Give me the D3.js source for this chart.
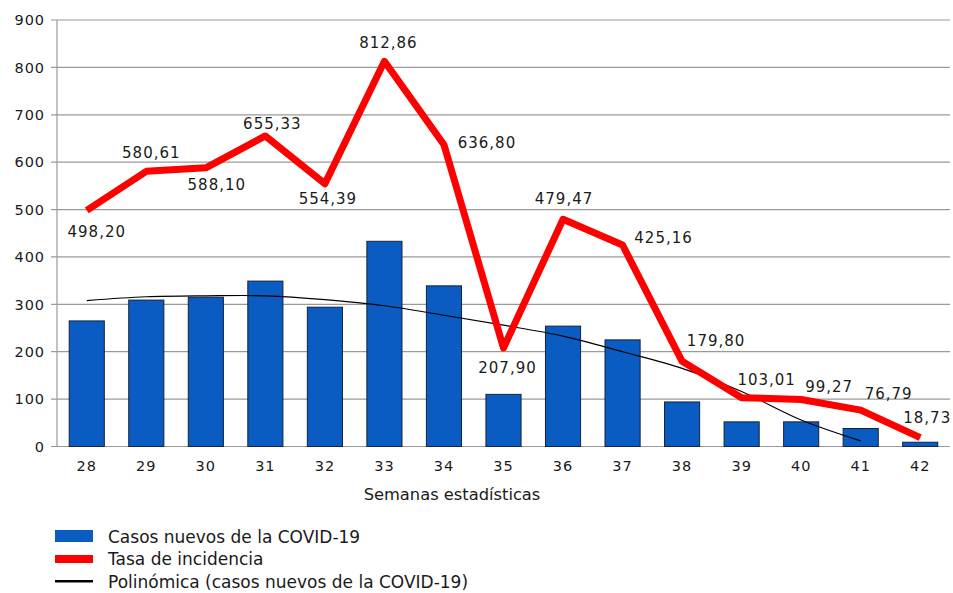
<!DOCTYPE html>
<html><head><meta charset="utf-8">
<script src="https://cdn.jsdelivr.net/npm/d3@7"></script>
<style>
html,body{margin:0;padding:0;background:#fff;}
svg{display:block;font-family:"DejaVu Sans",Verdana,sans-serif;}
</style></head>
<body>
<svg id="c" width="953" height="593"></svg>
<script>
const semanas = ["28","29","30","31","32","33","34","35","36","37","38","39","40","41","42"];
const casosNuevos = [265, 309, 315, 349, 294, 433, 339, 110, 254, 225, 94, 52, 52, 38, 9];
const tasaIncidencia = [498.20, 580.61, 588.10, 655.33, 554.39, 812.86, 636.80, 207.90, 479.47, 425.16, 179.80, 103.01, 99.27, 76.79, 18.73];
const tendencia = [308, 316, 318, 318, 310, 297, 277, 256, 233, 200, 165, 116, 56, 12];
const yTicks = [0, 100, 200, 300, 400, 500, 600, 700, 800, 900];
const legendLabels = ["Casos nuevos de la COVID-19", "Tasa de incidencia", "Polinómica (casos nuevos de la COVID-19)"];
const xTitle = "Semanas estadísticas";
// label placement offsets (presentation only)
const labelOffsets = [[10,21],[5,-19],[11,17],[7,-12],[3,15],[4,-19],[43,-2],[4,20],[1,-21],[41,-7],[34,-21],[25,-18],[28,-13],[28,-17],[7,-20]];

(function () {
const svg = d3.select("#c");
const pLeft = 57, pRight = 950, pTop = 20, pBottom = 446.5;
const x = d3.scaleBand().domain(semanas).range([pLeft, pRight]).paddingInner(0.41).paddingOuter(0.205);
const y = d3.scaleLinear().domain([0, 900]).range([pBottom, pTop]);
const cx = d => x(d) + x.bandwidth() / 2;

// grid
svg.append("g").selectAll("line").data(yTicks).join("line")
  .attr("x1", 51).attr("x2", pRight).attr("y1", d => y(d)).attr("y2", d => y(d))
  .attr("stroke", "#9a9a9a").attr("stroke-width", 1.2);
svg.append("line").attr("x1", pLeft).attr("x2", pLeft).attr("y1", pTop).attr("y2", pBottom)
  .attr("stroke", "#9a9a9a").attr("stroke-width", 1.2);

// y labels
svg.append("g").selectAll("text").data(yTicks).join("text")
  .attr("x", 45).attr("y", d => y(d)).attr("dy", "0.36em").attr("text-anchor", "end")
  .attr("font-size", 14.5).attr("letter-spacing", 0.9).attr("fill", "#1a1a1a").text(d => d);

// bars
svg.append("g").selectAll("rect").data(casosNuevos).join("rect")
  .attr("x", (d, i) => x(semanas[i])).attr("width", x.bandwidth())
  .attr("y", d => y(d)).attr("height", d => y(0) - y(d))
  .attr("fill", "#0a5cc2").attr("stroke", "#15233a").attr("stroke-width", 1);

// x labels
svg.append("g").selectAll("text").data(semanas).join("text")
  .attr("x", d => cx(d)).attr("y", 466).attr("dy", "0.36em").attr("text-anchor", "middle")
  .attr("font-size", 14.5).attr("letter-spacing", 1).attr("fill", "#1a1a1a").text(d => d);

svg.append("text").attr("x", 452).attr("y", 494).attr("dy", "0.36em").attr("text-anchor", "middle")
  .attr("font-size", 16.3).attr("fill", "#1a1a1a").text(xTitle);

// trend
const trendLine = d3.line().x((d, i) => cx(semanas[i])).y(d => y(d)).curve(d3.curveCatmullRom);
svg.append("path").datum(tendencia).attr("d", trendLine)
  .attr("fill", "none").attr("stroke", "#000").attr("stroke-width", 1.2);

// incidence line
const redLine = d3.line().x((d, i) => cx(semanas[i])).y(d => y(d));
svg.append("path").datum(tasaIncidencia).attr("d", redLine)
  .attr("fill", "none").attr("stroke", "#ff0000").attr("stroke-width", 7).attr("stroke-linejoin", "round");

// data labels
const fmt = v => v.toFixed(2).replace(".", ",");
svg.append("g").selectAll("text").data(tasaIncidencia).join("text")
  .attr("x", (d, i) => cx(semanas[i]) + labelOffsets[i][0])
  .attr("y", (d, i) => y(d) + labelOffsets[i][1])
  .attr("dy", "0.36em").attr("text-anchor", "middle")
  .attr("font-size", 15).attr("letter-spacing", 1).attr("fill", "#1a1a1a").text(fmt);

// legend
const lg = svg.append("g");
lg.append("rect").attr("x", 55).attr("y", 530).attr("width", 38).attr("height", 12).attr("fill", "#0a5cc2");
lg.append("rect").attr("x", 55).attr("y", 555).attr("width", 38).attr("height", 8).attr("fill", "#ff0000");
lg.append("rect").attr("x", 55).attr("y", 580).attr("width", 38).attr("height", 2.5).attr("fill", "#000");
lg.selectAll("text").data(legendLabels).join("text")
  .attr("x", 108).attr("y", (d, i) => 537 + i * 22.3).attr("dy", "0.36em")
  .attr("font-size", 17).attr("fill", "#1a1a1a").text(d => d);
})();
</script>
</body></html>
